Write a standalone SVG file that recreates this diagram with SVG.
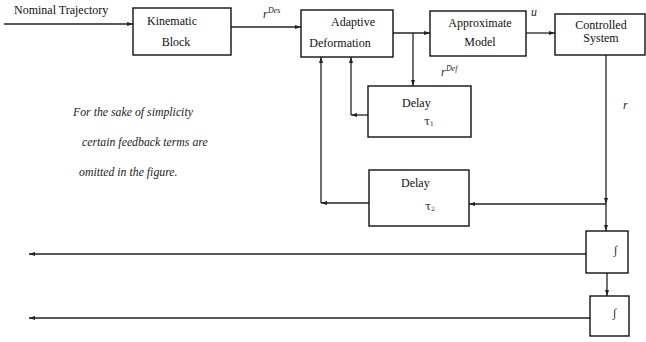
<svg xmlns="http://www.w3.org/2000/svg" width="646" height="342" viewBox="0 0 646 342">
<style>
.box{fill:#fff;stroke:#111;stroke-width:1.4}
.ln{fill:none;stroke:#222;stroke-width:1.3;marker-end:url(#ah)}
.t{font-family:"Liberation Serif","Times New Roman",serif;font-size:12px;fill:#111}
.i{font-family:"Liberation Serif","Times New Roman",serif;font-style:italic;font-size:11.8px;fill:#222}
.s{font-family:"Liberation Serif","Times New Roman",serif;font-style:italic;font-size:8px;fill:#222}
.g{font-family:"DejaVu Serif","Liberation Serif",serif;font-size:11px;fill:#222}
</style>
<defs>
<marker id="ah" markerUnits="userSpaceOnUse" markerWidth="6" markerHeight="6" viewBox="0 0 6 6" refX="6" refY="3" orient="auto">
<path d="M0,1 L6,3 L0,5 Z" fill="#222"/>
</marker>
</defs>
<rect width="646" height="342" fill="#fff"/>
<g id="connectors">
<path class="ln" d="M4,24 H133"/>
<path class="ln" d="M231,27 H301"/>
<path class="ln" d="M393,33 H430"/>
<path class="ln" d="M413,33 V86"/>
<path class="ln" d="M526,33 H555"/>
<path class="ln" d="M606,55 V204"/>
<path class="ln" d="M606,204 V231"/>
<path class="ln" d="M606,204 H469"/>
<path class="ln" d="M369,203 H321"/>
<path class="ln" d="M321,203 V57"/>
<path class="ln" d="M368,115 H351"/>
<path class="ln" d="M351,115 V57"/>
<path class="ln" d="M607,273 V296"/>
<path class="ln" d="M586,254 H29"/>
<path class="ln" d="M590,318 H29"/>
</g>
<text class="t" x="14" y="14">Nominal Trajectory</text>
<g id="kinematic">
<rect class="box" x="133" y="8" width="98" height="47"/>
<text class="t" x="172" y="25" text-anchor="middle">Kinematic</text>
<text class="t" x="176" y="46" text-anchor="middle">Block</text>
</g>
<text class="i" x="263" y="18">r</text><text class="s" x="268" y="13">Des</text>
<g id="adaptive">
<rect class="box" x="301" y="10" width="92" height="47"/>
<text class="t" x="353" y="26" text-anchor="middle">Adaptive</text>
<text class="t" x="340" y="47" text-anchor="middle">Deformation</text>
</g>
<g id="approximate">
<rect class="box" x="430" y="11" width="96" height="45"/>
<text class="t" x="480" y="27" text-anchor="middle">Approximate</text>
<text class="t" x="480" y="46" text-anchor="middle">Model</text>
</g>
<text class="i" x="531" y="16">u</text>
<g id="controlled">
<rect class="box" x="555" y="14" width="90" height="41"/>
<text class="t" x="601" y="29" text-anchor="middle">Controlled</text>
<text class="t" x="601" y="42" text-anchor="middle">System</text>
</g>
<text class="i" x="441" y="76">r</text><text class="s" x="446" y="71">Def</text>
<text class="i" x="623" y="109">r</text>
<g id="delay1">
<rect class="box" x="368" y="86" width="103" height="51"/>
<text class="t" x="402" y="107">Delay</text>
<text class="g" x="424" y="125">τ<tspan font-size="6" dy="1">1</tspan></text>
</g>
<g id="delay2">
<rect class="box" x="369" y="170" width="100" height="56"/>
<text class="t" x="401" y="187">Delay</text>
<text class="g" x="425" y="210">τ<tspan font-size="6" dy="1">2</tspan></text>
</g>
<g id="integrator1">
<rect class="box" x="586" y="231" width="42" height="42"/>
<text class="i" x="614" y="254" font-size="15">∫</text>
</g>
<g id="integrator2">
<rect class="box" x="590" y="296" width="39" height="40"/>
<text class="i" x="613" y="317" font-size="15">∫</text>
</g>
<text class="i" x="73" y="116">For the sake of simplicity</text>
<text class="i" x="82" y="146">certain feedback terms are</text>
<text class="i" x="79" y="176">omitted in the figure.</text>
</svg>
